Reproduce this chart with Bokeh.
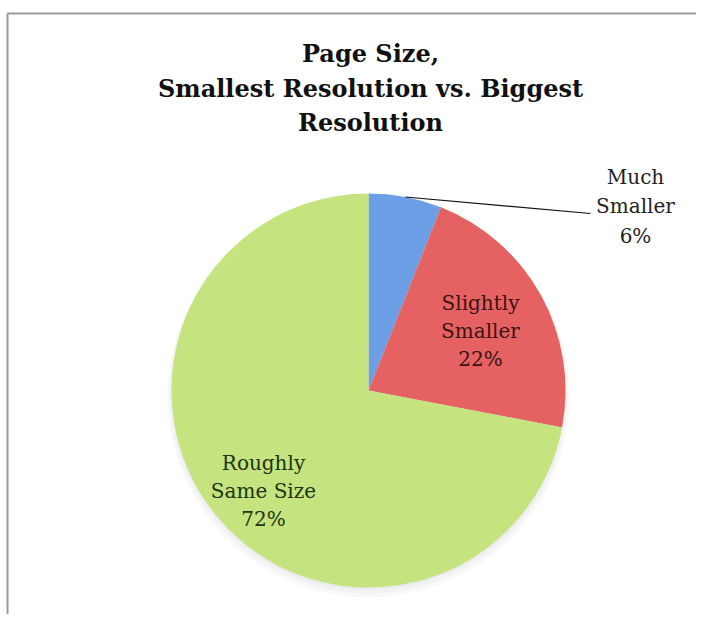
import math
from bokeh.plotting import figure
from bokeh.models import Range1d, ColumnDataSource
from bokeh.core.properties import value
from bokeh.embed import file_html
from bokeh.resources import INLINE

# ---- data ----
categories = ["Much Smaller", "Slightly Smaller", "Roughly Same Size"]
percents = [6, 22, 72]
colors = ["#6d9fe6", "#e66262", "#c5e37e"]
label_colors = ["#222222", "#3a1212", "#1d3510"]
title_lines = ["Page Size,", "Smallest Resolution vs. Biggest", "Resolution"]

W, H = 696, 614
# data coordinates == figure pixels (x), y = H - pixel_y
p = figure(width=W, height=H, output_backend="svg", toolbar_location=None,
           x_range=Range1d(0, W), y_range=Range1d(0, H),
           min_border=0)
p.axis.visible = False
p.grid.visible = False
p.outline_line_color = None
p.background_fill_color = "white"
p.border_fill_color = "white"

def Y(py):
    return H - py

# frame border
p.segment(x0=[7, 7], y0=[Y(13), Y(13)], x1=[W, 7], y1=[Y(13), Y(H)],
          line_color="#9a9a9a", line_width=2)

# title
font = value("DejaVu Serif")
p.text(x=[370] * 3, y=[Y(53), Y(88), Y(122)], text=title_lines,
       text_font=font, text_font_style="bold", text_font_size="24px",
       text_align="center", text_baseline="middle", text_color="#111111")

cx, cy, r = 368, Y(390), 197

# soft shadow
for dr, dy, a in [(4, 6, 0.05), (2, 4, 0.06), (0, 2, 0.08)]:
    p.circle(x=[cx], y=[cy - dy], radius=r + dr, fill_color="#888888",
             fill_alpha=a, line_color=None)

# wedges, starting at 12 o'clock, clockwise
total = float(sum(percents))
starts, ends, mids = [], [], []
acc = 0.0
for v in percents:
    a0 = math.pi / 2 - 2 * math.pi * acc / total
    a1 = math.pi / 2 - 2 * math.pi * (acc + v) / total
    starts.append(a0)
    ends.append(a1)
    mids.append((a0 + a1) / 2)
    acc += v

src = ColumnDataSource(dict(start=starts, end=ends, color=colors))
p.wedge(x=cx, y=cy, radius=r, start_angle="start", end_angle="end",
        direction="clock", fill_color="color", line_color=None, source=src)

# leader line for the small slice
lx0 = cx + r * math.cos(mids[0])
ly0 = cy + r * math.sin(mids[0])
p.line(x=[lx0, 590], y=[ly0, Y(213)], line_color="#111111", line_width=1.2)

# labels
label_pos = [(635, [176, 205, 235]), (480, [302, 330, 358]), (263, [462, 490, 518])]
lab_font = value("DejaVu Serif")
for cat, pct, col, (lx, ys) in zip(categories, percents, label_colors, label_pos):
    words = cat.split(" ")
    if len(words) == 3:
        lines = [words[0], words[1] + " " + words[2]]
    else:
        lines = words
    lines = lines + [f"{pct}%"]
    p.text(x=[lx] * len(lines), y=[Y(v) for v in ys], text=lines,
           text_font=lab_font, text_font_size="20px", text_align="center",
           text_baseline="middle", text_color=col)

open("out.html", "w").write(file_html(p, INLINE))
